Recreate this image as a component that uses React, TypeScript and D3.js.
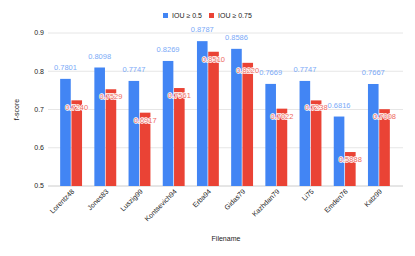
import * as d3 from "d3";

const fileNames = ["Lorentz48", "Jones83", "Luszig99", "Kontsevich94", "Erba94", "Gidas79", "Kazhdan79", "Li75", "Emden76", "Katz99"];
const iou50 = [0.7801, 0.8098, 0.7747, 0.8269, 0.8787, 0.8586, 0.7669, 0.7747, 0.6816, 0.7667];
const iou75 = [0.7240, 0.7529, 0.6917, 0.7561, 0.8510, 0.8220, 0.7022, 0.7238, 0.5888, 0.7008];
const yTicks = [0.5, 0.6, 0.7, 0.8, 0.9];

const seriesNames = ["IOU ≥ 0.5", "IOU ≥ 0.75"];
const colors = ["#4285f4", "#ea4335"];
const labelColors = ["#7baaf7", "#ee6a60"];

export default function App() {
    const width = 415;
    const height = 256;
    const font = "Arial, 'Liberation Sans', sans-serif";

    const x = d3.scaleBand<string>().domain(fileNames).range([54, 396]).paddingInner(0.36).paddingOuter(0.18);
    const inner = d3.scaleBand<number>().domain([0, 1]).range([0, x.bandwidth()]).paddingInner(0.06);
    const y = d3.scaleLinear().domain([0.5, 0.9]).range([186, 33]);

    const series = [iou50, iou75];

    return <div style={{position: "absolute", left: 0, top: 0}}>
        <svg width={width} height={height} viewBox={`0 0 ${width} ${height}`} style={{display: "block", background: "#fff"}}
             fontFamily={font}>
            {yTicks.map(t => <g key={t}>
                <line x1={48} x2={403} y1={y(t)} y2={y(t)} stroke={t === 0.5 ? "#cccccc" : "#e6e6e6"} strokeWidth={1}/>
                <text x={44} y={y(t)} dy="0.35em" textAnchor="end" fontSize={7} fill="#222">{t.toFixed(1)}</text>
            </g>)}
            {fileNames.map((name, i) => <g key={name} transform={`translate(${x(name)},0)`}>
                {series.map((s, k) => <rect key={k} x={inner(k)} y={y(s[i])} width={inner.bandwidth()}
                                            height={y(0.5) - y(s[i])} fill={colors[k]}/>)}
            </g>)}
            {fileNames.map((name, i) => {
                const bx = (x(name) ?? 0);
                const cb = bx + (inner(0) ?? 0) + inner.bandwidth() / 2;
                const cr = bx + (inner(1) ?? 0) + inner.bandwidth() / 2;
                return <g key={name + "l"} fontSize={7.5}>
                    <text x={cb} y={y(iou50[i]) - 9} textAnchor="middle" fill={labelColors[0]}>{iou50[i].toFixed(4)}</text>
                    <text x={cr} y={y(iou75[i]) + 10} textAnchor="middle" fill={labelColors[1]}
                          stroke="#fff" strokeWidth={1.5} paintOrder="stroke">{iou75[i].toFixed(4)}</text>
                    <text transform={`translate(${cr - 2},${192}) rotate(-45)`} textAnchor="end" fontSize={7}
                          fill="#222">{name}</text>
                </g>;
            })}
            <g fontSize={7}>
                <rect x={163} y={13} width={5} height={5} fill={colors[0]}/>
                <text x={172} y={18} fill="#222">{seriesNames[0]}</text>
                <rect x={209} y={13} width={5} height={5} fill={colors[1]}/>
                <text x={218} y={18} fill="#222">{seriesNames[1]}</text>
            </g>
            <text transform={`translate(19,${y(0.7)}) rotate(-90)`} textAnchor="middle" fontSize={7} fill="#222">f-score</text>
            <text x={226} y={241} textAnchor="middle" fontSize={7} fill="#222">Filename</text>
        </svg>
    </div>;
}
